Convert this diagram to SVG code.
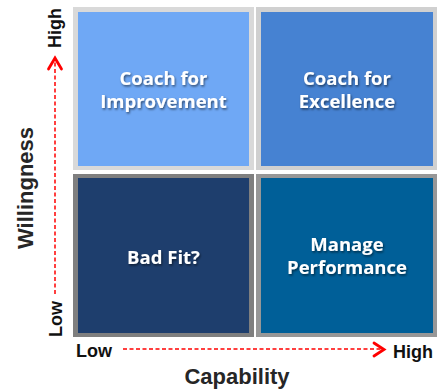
<svg xmlns="http://www.w3.org/2000/svg" width="438" height="389" viewBox="0 0 438 389">
  <defs>
    <filter id="txtShadow" x="-10%" y="-30%" width="130%" height="170%">
      <feDropShadow dx="1" dy="1.5" stdDeviation="1" flood-color="#000" flood-opacity="0.55"/>
    </filter>
  </defs>
  <style>
    .cell-label { font-family: "Open Sans", "Liberation Sans", sans-serif; font-weight: bold; font-size: 18.5px; fill: #ffffff; text-anchor: middle; filter: url(#txtShadow); }
    .tick { font-family: "Liberation Sans", Arial, sans-serif; font-weight: bold; font-size: 18px; fill: #111111; }
    .axis-title { font-family: "Liberation Sans", Arial, sans-serif; font-weight: bold; font-size: 22px; fill: #262626; text-anchor: middle; }
    .dash { stroke: #ff0000; stroke-width: 1.5; stroke-dasharray: 4 2.5; fill: none; }
    .head { stroke: #ff0000; stroke-width: 2.8; fill: none; stroke-linecap: round; stroke-linejoin: miter; }
  </style>

  <rect width="438" height="389" fill="#ffffff"/>

  <!-- quadrant: high willingness, low capability -->
  <g id="coach-improvement">
    <rect x="73" y="7" width="181" height="163" fill="#d9d9d9"/>
    <rect x="78" y="12" width="171" height="154" fill="#6fa8f5"/>
    <text class="cell-label" x="163.5" y="85">Coach for</text>
    <text class="cell-label" x="163.5" y="108">Improvement</text>
  </g>

  <!-- quadrant: high willingness, high capability -->
  <g id="coach-excellence">
    <rect x="256" y="7" width="181" height="163" fill="#d0d0d0"/>
    <rect x="261" y="12" width="172" height="154" fill="#4682d2"/>
    <text class="cell-label" x="347" y="85">Coach for</text>
    <text class="cell-label" x="347" y="108">Excellence</text>
  </g>

  <!-- quadrant: low willingness, low capability -->
  <g id="bad-fit">
    <rect x="73" y="174" width="181" height="163" fill="#7f7f7f"/>
    <rect x="78" y="178" width="171" height="155" fill="#1e3e6d"/>
    <text class="cell-label" x="163.5" y="264">Bad Fit?</text>
  </g>

  <!-- quadrant: low willingness, high capability -->
  <g id="manage-performance">
    <rect x="256" y="174" width="181" height="163" fill="#979797"/>
    <rect x="261" y="178" width="172" height="155" fill="#005f98"/>
    <text class="cell-label" x="347" y="251">Manage</text>
    <text class="cell-label" x="347" y="274">Performance</text>
  </g>

  <!-- axis arrows -->
  <g id="connectors">
    <line class="dash" x1="55" y1="294" x2="55" y2="60"/>
    <polyline class="head" points="48.5,69 55,58 61.5,69"/>
    <line class="dash" x1="123" y1="349" x2="381" y2="349"/>
    <polyline class="head" points="374,343 384,349.5 374,356"/>
  </g>

  <!-- axis labels -->
  <g id="axis-labels">
    <text class="tick" transform="translate(61 28) rotate(-90)" text-anchor="middle">High</text>
    <text class="tick" transform="translate(61.5 319) rotate(-90)" text-anchor="middle">Low</text>
    <text class="tick" x="76" y="357">Low</text>
    <text class="tick" x="393" y="358">High</text>
    <text class="axis-title" transform="translate(33 188) rotate(-90)">Willingness</text>
    <text class="axis-title" x="237" y="384">Capability</text>
  </g>
</svg>
